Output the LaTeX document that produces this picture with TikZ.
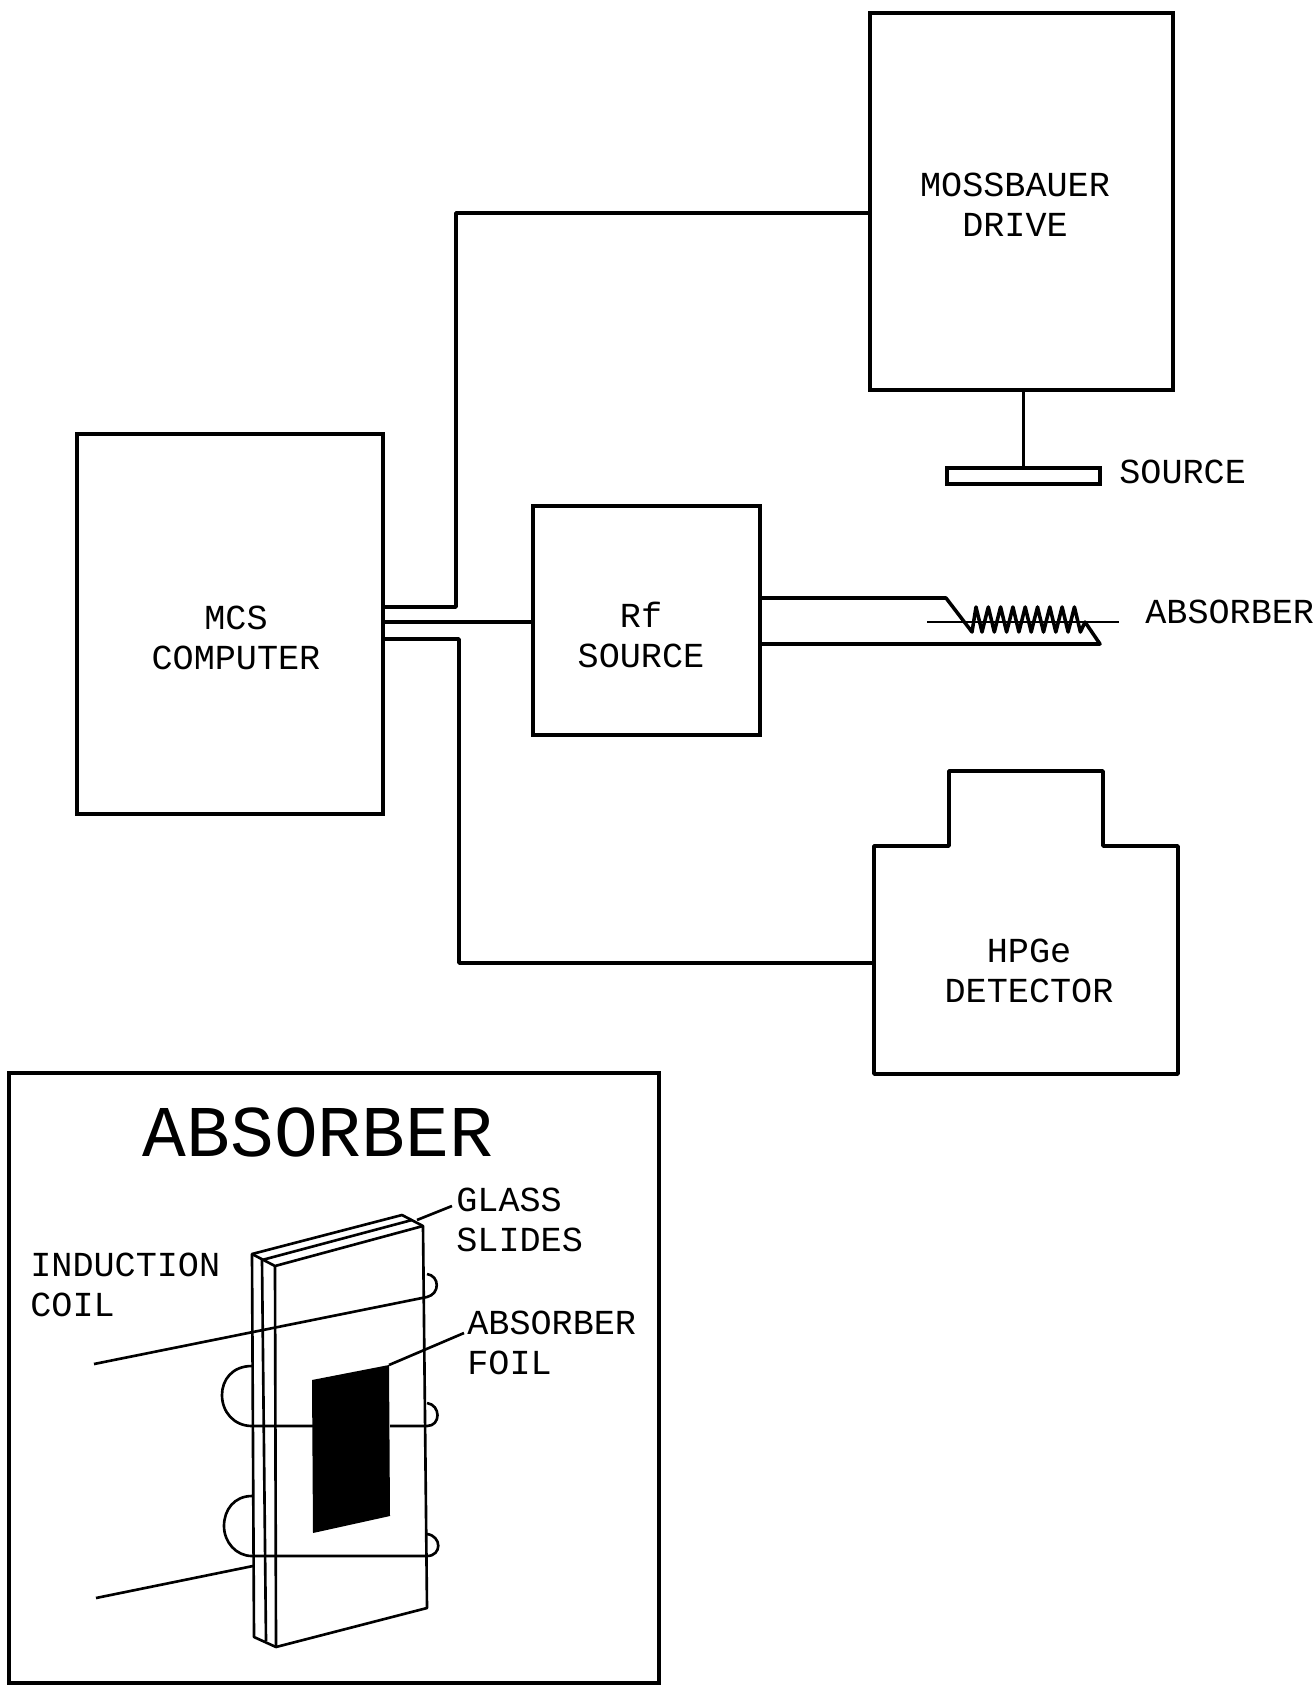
\documentclass[tikz,border=0pt]{standalone}
\usepackage{fontspec}
\setmainfont{Liberation Mono}
\tikzset{
  unitbox/.style={draw,line width=2pt,rectangle,inner sep=0pt},
  wire/.style={line width=2pt,line join=round},
  thinline/.style={line width=1.5pt,line join=round},
  lbl/.style={inner sep=0pt,align=left,font=\fontsize{20}{22.8}\selectfont},
  bigtitle/.style={inner sep=0pt,font=\fontsize{41.5}{45}\selectfont}
}
\begin{document}
\begin{tikzpicture}[x=0.02cm,y=-0.02cm]
  \useasboundingbox (0,0) rectangle (1314,1686);
  % upper part: units
  \node[unitbox,minimum width=6.06cm,minimum height=7.54cm] (drive) at (1021.5,201.5) {};
  \node[lbl,align=center] (drivetext) at (1015,205) {MOSSBAUER\\DRIVE};
  \node[unitbox,minimum width=6.12cm,minimum height=7.6cm] (mcs) at (230,624) {};
  \node[lbl,align=center] (mcstext) at (236,638) {MCS\\COMPUTER};
  \node[unitbox,minimum width=4.54cm,minimum height=4.58cm] (rf) at (646.5,620.5) {};
  \node[lbl,align=center] (rftext) at (641,635) {Rf\\SOURCE};
  % source on the drive
  \node[draw,line width=2pt,minimum width=3.06cm,minimum height=0.32cm,inner sep=0pt] (src) at (1023.5,476) {};
  \draw[wire] (drive.south -| src.north) -- (src.north);
  \node[lbl,anchor=west] (srctext) at (1119,472) {SOURCE};
  % detector
  \draw[wire] (874,846) -- (949,846) -- (949,771) -- (1103,771) -- (1103,846)
    -- (1178,846) -- (1178,1074) -- (874,1074) -- cycle;
  \coordinate (detin) at (874,963);
  \node[lbl,align=center] (dettext) at (1029,971) {HPGe\\DETECTOR};
  % connections from the computer
  \draw[wire] (mcs.east |- 0,607) -| (456,213) -- (drive.west |- 0,213);
  \draw[wire] (mcs.east |- 0,622) -- (rf.west |- 0,622);
  \draw[wire] (mcs.east |- 0,639) -| (459,963) -- (detin);
  % absorber with coil
  \coordinate (absin) at (927,622);
  \coordinate (absout) at (1119,622);
  \draw[thinline] (absin) -- (absout);
  \draw[wire] (rf.east |- 0,598) -- (946,598) -- (972,632)
    \foreach \n in {0,...,8} { -- (976+\n*12.3,607) -- (982+\n*12.3,632) } -- (1085,622) -- (1100,644)
    -- (rf.east |- 0,644);
  \node[lbl,anchor=west] (abstext) at (1145,612) {ABSORBER};
  % lower part: absorber detail
  \node[unitbox,minimum width=13cm,minimum height=12.2cm] (frame) at (334,1378) {};
  \node[bigtitle] (frametitle) at (318,1132) {ABSORBER};
  % glass slides
  \draw[thinline] (252,1254) -- (402,1215) -- (423,1226) -- (427,1608) -- (276,1647) -- (254,1637) -- cycle;
  \draw[thinline] (252,1254) -- (275,1266) -- (423,1226);
  \draw[thinline] (275,1266) -- (276,1647);
  \draw[thinline] (262,1260) -- (412,1220);
  \draw[thinline] (262,1260) -- (266,1641);
  % foil
  \fill (312,1380) -- (389,1365) -- (390,1516) -- (313,1533) -- cycle;
  \draw[thinline] (389,1365) -- (464,1333);
  \draw[thinline] (417,1220) -- (452,1206);
  % coil
  \draw[thinline] (94,1364) -- (427,1297) .. controls (440,1294) and (440,1276) .. (427,1274);
  \draw[thinline] (252,1366) .. controls (232,1366) and (222,1380) .. (222,1395)
    .. controls (222,1412) and (234,1426) .. (252,1426) -- (313,1426);
  \draw[thinline] (390,1426) -- (427,1426) .. controls (441,1426) and (441,1405) .. (427,1403);
  \draw[thinline] (252,1496) .. controls (234,1496) and (224,1510) .. (224,1526)
    .. controls (224,1542) and (236,1556) .. (252,1556) -- (427,1556)
    .. controls (442,1556) and (442,1536) .. (427,1534);
  \draw[thinline] (96,1598) -- (253,1566);
  % labels of the detail
  \node[lbl,anchor=west] (glasstext) at (456,1220) {GLASS\\SLIDES};
  \node[lbl,anchor=west] (coiltext) at (30,1285) {INDUCTION\\COIL};
  \node[lbl,anchor=west] (foiltext) at (467,1343) {ABSORBER\\FOIL};
\end{tikzpicture}
\end{document}
